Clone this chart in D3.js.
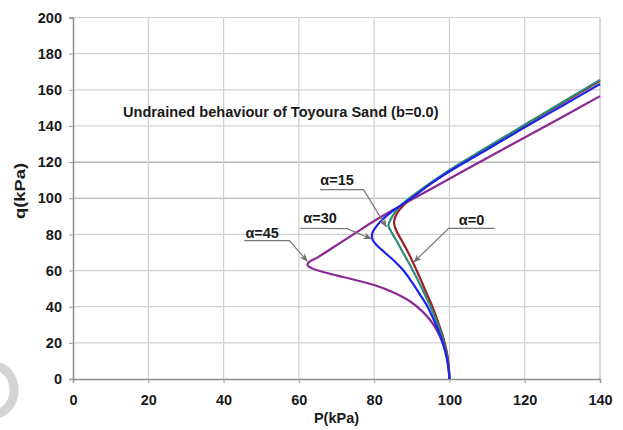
<!DOCTYPE html>
<html>
<head>
<meta charset="utf-8">
<script src="https://cdn.jsdelivr.net/npm/d3@7/dist/d3.min.js"></script>
<style>
  html, body { margin: 0; padding: 0; background: #fff; }
  svg text { font-family: "Liberation Sans", Arial, sans-serif; font-weight: bold; fill: #1a1a1a; }
</style>
</head>
<body>
<div id="chart"></div>
<script>
// axis ticks
const xTicks = [0, 20, 40, 60, 80, 100, 120, 140];
const yTicks = [0, 20, 40, 60, 80, 100, 120, 140, 160, 180, 200];

// stress paths [P, q]
const alpha0 = [[100,0],[99.8,8],[99.2,16],[98.2,24],[96.9,32],[95.5,40],[94,47],[92.6,54],[91.3,60],[90.2,65],
  [88.8,71],[87.2,77],[85.9,82],[85.3,86],[85.5,89],[86.4,92.8],[88,96.5],[90,100.4],[95,108.2],[100,115.2],
  [110,127.8],[120,140.3],[130,152.7],[140,165.0]];
const alpha15 = [[100,0],[99.7,8],[99,16],[98,24],[96.6,32],[95,40],[93.4,47],[91.8,54],[90.3,60],[89,65],
  [87.4,71],[85.8,77],[84.4,82],[83.8,85],[84.3,88],[85.4,91.8],[87,95.8],[89.5,100.2],[95,108.5],[100,115.6],
  [110,128.2],[120,140.7],[130,153.1],[140,165.5]];
const alpha30 = [[100,0],[99.6,8],[98.8,16],[97.6,24],[96,32],[94.2,40],[92.1,47],[89.9,54],[87.8,60],[85.5,65],
  [82.8,70],[80.7,74],[79.6,77],[79.4,79.5],[79.8,82],[80.8,85],[82.5,88.8],[84.8,92.8],[87.5,96.6],[90,100.2],
  [95,108],[100,114.8],[110,127],[120,139.2],[130,151.2],[140,163.2]];
const alpha45 = [[100,0],[99.7,8],[99,15],[97.8,22],[95.8,30],[93,37],[89.5,43],[85,48],[80,52],[75,54.8],
  [70,57.3],[66,59.5],[63.5,61.2],[62.3,63],[62.6,64.5],[65,67.3],[70,74],[75,80.7],[80,87.4],[85,93.5],
  [90,99.3],[100,110.8],[110,122.3],[120,133.6],[130,145],[140,156.5]];

const seriesNames = ["α=45", "α=0", "α=15", "α=30"];
const seriesData = [alpha45, alpha0, alpha15, alpha30];
const seriesColors = ["#8a2a92", "#9e1f22", "#2b8c7a", "#1e22e8"];

// callouts: label anchor, underline, arrow tip (all in P,q)
const calloutLabels = ["α=45", "α=30", "α=15", "α=0"];
const calloutText = [[45.8, 78], [61.2, 86.2], [65.7, 107.2], [102.5, 85.2]];
const calloutLine = [[[45.5, 76.6], [57.5, 76.6]], [[60.3, 83.4], [72.8, 83.2]], [[65.6, 104.8], [77.2, 104.8]], [[112, 83.3], [99.8, 83.3]]];
const calloutTip = [[62.2, 65.2], [79.2, 77.6], [83.2, 84.3], [90.6, 64.8]];

const width = 623, height = 430;

const svg = d3.select("#chart").append("svg")
    .attr("width", width)
    .attr("height", height);

const x = d3.scaleLinear().domain([0, 140]).range([73, 600]);
const y = d3.scaleLinear().domain([0, 200]).range([379, 17.5]);

// faint mark at lower left of the scan
svg.append("path")
    .attr("d", "M -6 366 A 20 24 0 0 1 -6 414")
    .attr("fill", "none")
    .attr("stroke", "#d4d4d4")
    .attr("stroke-width", 9);

// gridlines
svg.append("g").selectAll("line")
    .data(yTicks.slice(1))
    .enter().append("line")
    .attr("x1", x(0)).attr("x2", x(140))
    .attr("y1", d => y(d)).attr("y2", d => y(d))
    .attr("stroke", d => (d === 100 || d === 120) ? "#a9a9a9" : "#d2d2d2")
    .attr("stroke-width", 1.2);

svg.append("g").selectAll("line")
    .data(xTicks.slice(1))
    .enter().append("line")
    .attr("x1", d => x(d)).attr("x2", d => x(d))
    .attr("y1", y(0)).attr("y2", y(200))
    .attr("stroke", d => d === 140 ? "#bdbdbd" : "#cfcfcf")
    .attr("stroke-width", 1.2);

// axes
const xAxis = svg.append("g")
    .attr("transform", `translate(0,${y(0)})`)
    .call(d3.axisBottom(x).tickValues(xTicks).tickSize(4).tickPadding(12));
const yAxis = svg.append("g")
    .attr("transform", `translate(${x(0)},0)`)
    .call(d3.axisLeft(y).tickValues(yTicks).tickSize(4).tickPadding(7));

[xAxis, yAxis].forEach(a => {
    a.select(".domain").attr("stroke", "#8c8c8c").attr("stroke-width", 1.5);
    a.selectAll(".tick line").attr("stroke", "#9a9a9a");
    a.selectAll("text")
        .style("font-size", "14.5px")
        .style("font-family", "'Liberation Sans', Arial, sans-serif")
        .style("font-weight", "bold")
        .attr("fill", "#1a1a1a");
});

// stress paths
const line = d3.line()
    .x(d => x(d[0]))
    .y(d => y(d[1]))
    .curve(d3.curveCatmullRom.alpha(0.5));

svg.append("g").selectAll("path")
    .data(seriesData)
    .enter().append("path")
    .attr("d", line)
    .attr("fill", "none")
    .attr("stroke", (d, i) => seriesColors[i])
    .attr("stroke-width", 2.2)
    .attr("stroke-linejoin", "round");

// arrowhead for callouts
svg.append("defs").append("marker")
    .attr("id", "arrow")
    .attr("viewBox", "0 0 10 10")
    .attr("refX", 9).attr("refY", 5)
    .attr("markerWidth", 7).attr("markerHeight", 7)
    .attr("orient", "auto")
    .append("path")
    .attr("d", "M0,1 L10,5 L0,9 L3,5 Z")
    .attr("fill", "#6e6e6e");

const callouts = svg.append("g");
calloutLabels.forEach((lab, i) => {
    const [a, b] = calloutLine[i];
    const tip = calloutTip[i];
    callouts.append("path")
        .attr("d", `M${x(a[0])},${y(a[1])} L${x(b[0])},${y(b[1])} L${x(tip[0])},${y(tip[1])}`)
        .attr("fill", "none")
        .attr("stroke", "#777")
        .attr("stroke-width", 1.2)
        .attr("marker-end", "url(#arrow)");
    callouts.append("text")
        .attr("x", x(calloutText[i][0]))
        .attr("y", y(calloutText[i][1]))
        .style("font-size", "14.5px")
        .text(lab);
});

// title and axis labels
svg.append("text")
    .attr("x", 123)
    .attr("y", 117)
    .style("font-size", "14.6px")
    .text("Undrained behaviour of Toyoura Sand (b=0.0)");

svg.append("text")
    .attr("x", (x(0) + x(140)) / 2)
    .attr("y", 423)
    .attr("text-anchor", "middle")
    .style("font-size", "14.5px")
    .text("P(kPa)");

svg.append("text")
    .attr("transform", "translate(25,191) rotate(-90)")
    .attr("text-anchor", "middle")
    .attr("textLength", 56)
    .attr("lengthAdjust", "spacingAndGlyphs")
    .style("font-size", "14.5px")
    .text("q(kPa)");
</script>
</body>
</html>
